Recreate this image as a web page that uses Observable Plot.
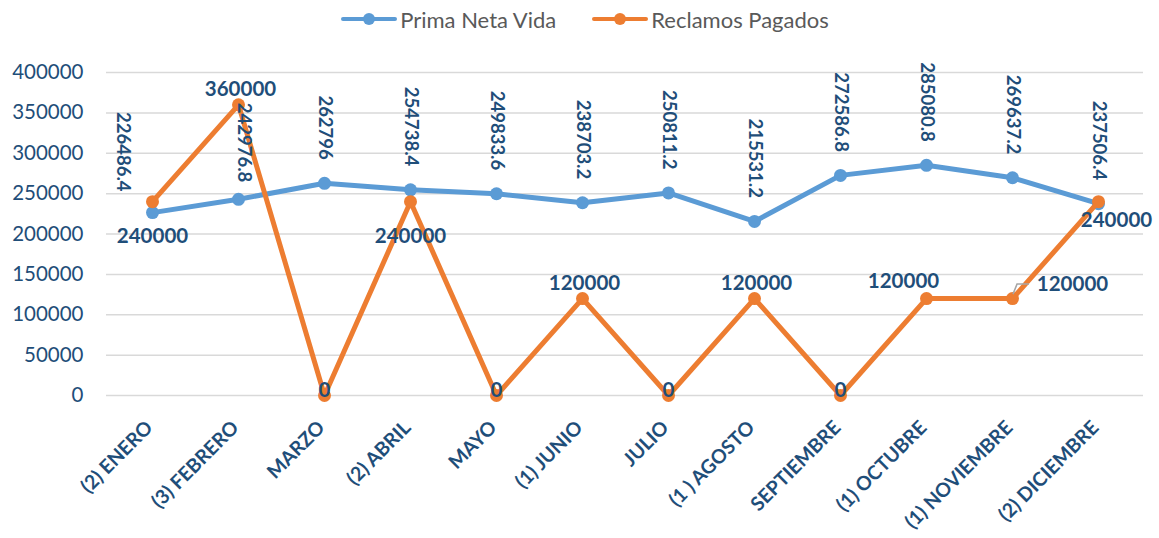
<!DOCTYPE html>
<html><head><meta charset="utf-8">
<script src="https://cdn.jsdelivr.net/npm/d3@7"></script>
<script src="https://cdn.jsdelivr.net/npm/@observablehq/plot@0.6"></script>
<style>
html,body{margin:0;padding:0;background:#fff;}
#chart{width:1159px;height:538px;font-family:Lato, sans-serif;overflow:hidden}
.legend{height:38px;display:flex;justify-content:center;align-items:center;gap:36px;font-size:22px;color:#595959;padding-left:11px;box-sizing:border-box}
.item{display:flex;align-items:center;}
.sw{position:relative;width:56px;height:14px;margin-right:3px}
.sw .ln{position:absolute;left:0;right:0;top:5px;height:4px;border-radius:2px}
.sw .dt{position:absolute;left:22px;top:1px;width:12px;height:12px;border-radius:50%}
svg{display:block}
</style></head>
<body><div id="chart"></div>
<script>
const months = ["(2) ENERO","(3) FEBRERO","MARZO","(2) ABRIL","MAYO","(1) JUNIO","JULIO","(1 ) AGOSTO","SEPTIEMBRE","(1) OCTUBRE","(1) NOVIEMBRE","(2) DICIEMBRE"];
const primaNetaVida = [226486.4, 242976.8, 262796, 254738.4, 249833.6, 238703.2, 250811.2, 215531.2, 272586.8, 285080.8, 269637.2, 237506.4];
const reclamosPagados = [240000, 360000, 0, 240000, 0, 120000, 0, 120000, 0, 120000, 120000, 240000];
const yTicks = [0, 50000, 100000, 150000, 200000, 250000, 300000, 350000, 400000];
const seriesNames = ["Prima Neta Vida", "Reclamos Pagados"];

const BLUE = "#5b9bd5", ORANGE = "#ed7d31", INK = "#1f4e79";

const rows = months.map((m, i) => ({month: m, prima: primaNetaVida[i], reclamos: reclamosPagados[i]}));

// label placement (style config)
const reclamosPlacement = {"(2) ENERO":"below","(3) FEBRERO":"above","MARZO":"zero","(2) ABRIL":"below","MAYO":"zero","(1) JUNIO":"above","JULIO":"zero","(1 ) AGOSTO":"above","SEPTIEMBRE":"zero","(1) OCTUBRE":"aboveLeft","(1) NOVIEMBRE":"right","(2) DICIEMBRE":"belowRight"};
const reclamosOffsets = {below:[0,35], above:[2,-15], zero:[0,-5], aboveLeft:[-23,-17], right:[60,-14], belowRight:[18,19]};
const primaPlacement = {"(2) ENERO":"left","(3) FEBRERO":"shift"};
const primaOffsets = {default:[0,-23.5], left:[-29.5,-21], shift:[5,-17]};

const labelStyle = {fill: INK, fontWeight: "bold", fontFamily: "Lato"};

const legend = document.createElement("div");
legend.className = "legend";
legend.innerHTML = seriesNames.map((n, i) => {
  const c = i === 0 ? BLUE : ORANGE;
  return `<div class="item"><div class="sw"><div class="ln" style="background:${c}"></div><div class="dt" style="background:${c}"></div></div><span>${n}</span></div>`;
}).join("");

const leader = (index, scales) => {
  const px = scales.x("(1) NOVIEMBRE"), py = scales.y(reclamosPagados[10]);
  const g = d3.create("svg:g");
  g.append("path")
    .attr("d", `M${px + 1},${py - 4}L${px + 5},${py - 14}L${px + 17},${py - 14}`)
    .attr("fill", "none").attr("stroke", "#a6a6a6").attr("stroke-width", 1.5);
  return g.node();
};

const plot = Plot.plot({
  width: 1159,
  height: 500,
  marginTop: 34,
  marginBottom: 143,
  marginLeft: 106,
  marginRight: 16,
  style: {fontFamily: "Lato", background: "#fff"},
  x: {type: "point", domain: months, padding: 0.5, label: null},
  y: {domain: [0, 400000], label: null},
  marks: [
    Plot.ruleY(yTicks, {stroke: "#d9d9d9", strokeWidth: 1.5}),
    Plot.axisY({ticks: yTicks, tickSize: 0, tickPadding: 23, fontSize: 20.5, fill: INK, tickFormat: d => String(d), label: null}),
    Plot.axisX({tickRotate: -45, tickSize: 0, tickPadding: 29, dx: -3, fontSize: 19.5, fontWeight: "bold", fill: INK, label: null}),
    Plot.line(rows, {x: "month", y: "prima", stroke: BLUE, strokeWidth: 5, strokeLinejoin: "round"}),
    Plot.dot(rows, {x: "month", y: "prima", r: 6.5, fill: BLUE}),
    Plot.line(rows, {x: "month", y: "reclamos", stroke: ORANGE, strokeWidth: 5, strokeLinejoin: "round"}),
    Plot.dot(rows, {x: "month", y: "reclamos", r: 6.5, fill: ORANGE}),
    leader,
    ...Object.entries(primaOffsets).map(([k, [dx, dy]]) =>
      Plot.text(rows.filter(r => (primaPlacement[r.month] || "default") === k), {
        x: "month", y: "prima", text: d => String(d.prima), rotate: 90, textAnchor: "end",
        dx, dy, fontSize: 18.5, ...labelStyle
      })),
    ...Object.entries(reclamosOffsets).map(([k, [dx, dy]]) =>
      Plot.text(rows.filter(r => reclamosPlacement[r.month] === k), {
        x: "month", y: "reclamos", text: d => String(d.reclamos),
        dx, dy, fontSize: 20.5, ...labelStyle
      }))
  ]
});

const chart = document.getElementById("chart");
chart.appendChild(legend);
chart.appendChild(plot);
</script>
</body></html>
